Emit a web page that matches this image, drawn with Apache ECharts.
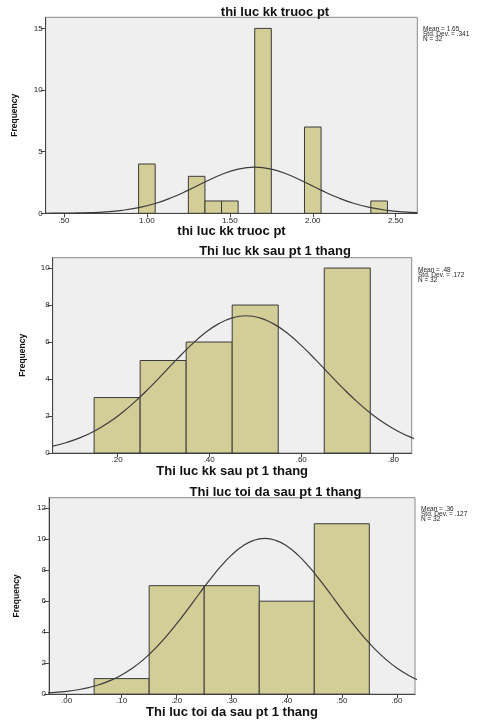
<!DOCTYPE html>
<html>
<head>
<meta charset="utf-8">
<script src="https://cdn.jsdelivr.net/npm/echarts@6/dist/echarts.min.js"></script>
<style>
html,body{margin:0;padding:0;background:#fff;}
#c{width:490px;height:720px;}
</style>
</head>
<body>
<div id="c"></div>
<script>
const titles = ['thi luc kk truoc pt', 'Thi luc kk sau pt 1 thang', 'Thi luc toi da sau pt 1 thang'];
const statsTexts = [
  ['Mean = 1.65', 'Std. Dev. = .341', 'N = 32'],
  ['Mean = .48', 'Std. Dev. = .172', 'N = 32'],
  ['Mean = .36', 'Std. Dev. = .127', 'N = 32']
];
const binWidth = [0.1, 0.1, 0.1];

// ---- Chart 1: thi luc kk truoc pt ----
const bins1 = [1.0, 1.3, 1.4, 1.5, 1.7, 2.0, 2.4];
const counts1 = [4, 3, 1, 1, 15, 7, 1];
const curveX1 = [0.39,0.45,0.55,0.65,0.75,0.85,0.95,1.05,1.15,1.25,1.35,1.45,1.55,1.65,1.75,1.85,1.95,2.05,2.15,2.25,2.35,2.45,2.55,2.63];
const curveY1 = [0.004,0.008,0.021,0.051,0.115,0.239,0.455,0.795,1.277,1.880,2.540,3.149,3.583,3.74,3.583,3.149,2.540,1.880,1.277,0.795,0.455,0.239,0.115,0.060];
const xTicks1 = [0.5, 1.0, 1.5, 2.0, 2.5];
const xTickLabels1 = ['.50', '1.00', '1.50', '2.00', '2.50'];
const yTicks1 = [0, 5, 10, 15];

// ---- Chart 2: Thi luc kk sau pt 1 thang ----
const bins2 = [0.2, 0.3, 0.4, 0.5, 0.7];
const counts2 = [3, 5, 6, 8, 10];
const curveX2 = [0.06,0.09,0.12,0.15,0.18,0.21,0.24,0.27,0.30,0.33,0.36,0.39,0.42,0.45,0.48,0.51,0.54,0.57,0.60,0.63,0.66,0.69,0.72,0.75,0.78,0.81,0.84,0.87];
const curveY2 = [0.376,0.567,0.830,1.178,1.621,2.164,2.803,3.522,4.289,5.074,5.817,6.470,6.982,7.308,7.42,7.308,6.982,6.470,5.817,5.074,4.289,3.522,2.803,2.164,1.621,1.178,0.830,0.567];
const xTicks2 = [0.2, 0.4, 0.6, 0.8];
const xTickLabels2 = ['.20', '.40', '.60', '.80'];
const yTicks2 = [0, 2, 4, 6, 8, 10];

// ---- Chart 3: Thi luc toi da sau pt 1 thang ----
const bins3 = [0.1, 0.2, 0.3, 0.4, 0.5];
const counts3 = [1, 7, 7, 6, 11];
const curveX3 = [-0.04,-0.02,0.00,0.02,0.04,0.06,0.08,0.10,0.12,0.14,0.16,0.18,0.20,0.22,0.24,0.26,0.28,0.30,0.32,0.34,0.36,0.38,0.40,0.42,0.44,0.46,0.48,0.50,0.52,0.54,0.56,0.58,0.60,0.62,0.64];
const curveY3 = [0.070,0.114,0.181,0.279,0.420,0.617,0.884,1.236,1.685,2.241,2.908,3.681,4.545,5.474,6.431,7.371,8.241,8.989,9.563,9.926,10.05,9.926,9.563,8.989,8.241,7.371,6.431,5.474,4.545,3.681,2.908,2.241,1.685,1.236,0.884];
const xTicks3 = [0.0, 0.1, 0.2, 0.3, 0.4, 0.5, 0.6];
const xTickLabels3 = ['.00', '.10', '.20', '.30', '.40', '.50', '.60'];
const yTicks3 = [0, 2, 4, 6, 8, 10, 12];

// axis ranges
const xRanges = [[0.39, 2.63], [0.06, 0.84], [-0.032, 0.633]];
const yMax = [15.9, 10.56, 12.68];

const FONT = 'Liberation Sans, Arial, sans-serif';
const grids = [
  {left: 45.7, top: 17.3, width: 371.6, height: 196},
  {left: 52.7, top: 257.7, width: 359, height: 195.3},
  {left: 49, top: 497.7, width: 366, height: 196.6}
];
const titlePos = [[275, 12], [275, 251.7], [275.5, 492]];
const yNameGaps = [27, 26, 28];
const statsPos = [[423, 26], [418, 266.5], [421, 505.5]];

const allBins = [bins1, bins2, bins3];
const allCounts = [counts1, counts2, counts3];
const allCurveX = [curveX1, curveX2, curveX3];
const allCurveY = [curveY1, curveY2, curveY3];
const allXTicks = [xTicks1, xTicks2, xTicks3];
const allXLabels = [xTickLabels1, xTickLabels2, xTickLabels3];
const allYTicks = [yTicks1, yTicks2, yTicks3];

const fmt = {};
allXTicks.forEach((t, i) => t.forEach((v, j) => { fmt[i + ':' + v.toFixed(3)] = allXLabels[i][j]; }));

const option = {
  backgroundColor: '#ffffff',
  animation: false,
  grid: grids.map(g => Object.assign({
    show: true, backgroundColor: '#efefef', borderColor: '#8a8a8a', borderWidth: 1
  }, g)),
  xAxis: [0, 1, 2].map(i => ({
    type: 'value', gridIndex: i, min: xRanges[i][0], max: xRanges[i][1],
    name: titles[i], nameLocation: 'middle', nameGap: 11,
    nameTextStyle: {fontFamily: FONT, fontSize: 13, fontWeight: 'bold', color: '#111'},
    axisLine: {show: true, onZero: false, lineStyle: {color: '#444', width: 1}},
    axisTick: {show: true, inside: false, length: 4, lineStyle: {color: '#444'}, customValues: allXTicks[i]},
    axisLabel: {
      fontFamily: FONT, fontSize: 8, color: '#222', margin: 3,
      customValues: allXTicks[i],
      formatter: v => fmt[i + ':' + Number(v).toFixed(3)] || ''
    },
    splitLine: {show: false}
  })),
  yAxis: [0, 1, 2].map(i => ({
    type: 'value', gridIndex: i, min: 0, max: yMax[i],
    name: 'Frequency', nameLocation: 'middle', nameGap: yNameGaps[i],
    nameTextStyle: {fontFamily: 'Liberation Sans Narrow, ' + FONT, fontSize: 8.5, fontWeight: 'bold', color: '#111'},
    axisLine: {show: true, onZero: false, lineStyle: {color: '#444', width: 1}},
    axisTick: {show: true, inside: false, length: 5, lineStyle: {color: '#444'}, customValues: allYTicks[i]},
    axisLabel: {fontFamily: FONT, fontSize: 8, color: '#222', margin: 3, customValues: allYTicks[i]},
    splitLine: {show: false}
  })),
  series: [],
  graphic: statsTexts.map((lines, i) => ({
    type: 'text', left: statsPos[i][0], top: statsPos[i][1],
    style: {text: lines.join('\n'), font: '6.5px ' + FONT, fill: '#222', lineHeight: 5}
  })).concat(titles.map((t, i) => ({
    type: 'text', x: titlePos[i][0], y: titlePos[i][1],
    style: {text: t, font: 'bold 13px ' + FONT, fill: '#111', align: 'center', verticalAlign: 'middle'}
  })))
};

[0, 1, 2].forEach(i => {
  const data = allBins[i].map((c, j) => [c - binWidth[i] / 2, c + binWidth[i] / 2, allCounts[i][j]]);
  option.series.push({
    type: 'custom', xAxisIndex: i, yAxisIndex: i,
    encode: {x: [0, 1], y: 2},
    data: data,
    z: 2,
    renderItem: function (params, api) {
      const p0 = api.coord([api.value(0), api.value(2)]);
      const p1 = api.coord([api.value(1), 0]);
      return {
        type: 'rect',
        shape: {x: p0[0], y: p0[1], width: p1[0] - p0[0], height: p1[1] - p0[1]},
        style: {fill: '#d3ce97', stroke: '#3a3a3a', lineWidth: 1}
      };
    }
  });
  option.series.push({
    type: 'line', xAxisIndex: i, yAxisIndex: i, z: 3,
    data: allCurveX[i].map((x, j) => [x, allCurveY[i][j]]),
    smooth: true, showSymbol: false, symbol: 'none',
    lineStyle: {color: '#3c3c3c', width: 1.2}
  });
});

const chart = echarts.init(document.getElementById('c'), null, {renderer: 'canvas'});
chart.setOption(option);
</script>
</body>
</html>
